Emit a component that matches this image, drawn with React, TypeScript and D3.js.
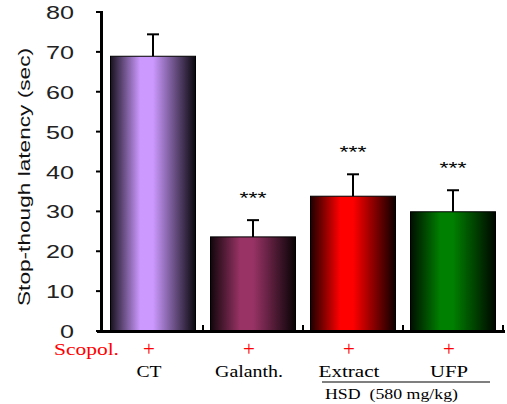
import React, { useEffect, useRef } from "react";
import * as d3 from "d3";

const groups = ["CT", "Galanth.", "Extract", "UFP"];
const means = [68.9, 23.6, 33.8, 29.9];
const errors = [5.5, 4.2, 5.5, 5.4];
const stars = ["", "***", "***", "***"];
const colors = ["#cc99ff", "#993366", "#ff0000", "#008000"];
const yTicks = [0, 10, 20, 30, 40, 50, 60, 70, 80];
const labelWidths = [25, 68, 61, 38];

export default function App() {
  const svgRef = useRef<SVGSVGElement>(null);

  useEffect(() => {
    const svg = d3.select(svgRef.current);
    svg.selectAll("*").remove();

    const width = 507;
    const height = 404;
    svg.attr("width", width).attr("height", height);

    const x = d3
      .scaleBand()
      .domain(groups)
      .range([103, 503])
      .paddingInner(0.15)
      .paddingOuter(0.075);

    const y = d3.scaleLinear().domain([0, 80]).range([331, 12]);

    // gradients: dark edges, bright towards the centre
    const defs = svg.append("defs");
    colors.forEach((c, i) => {
      const g = defs
        .append("linearGradient")
        .attr("id", "grad" + i)
        .attr("x1", "0%")
        .attr("x2", "100%")
        .attr("y1", "0%")
        .attr("y2", "0%");
      const base = d3.color(c)!;
      g.append("stop").attr("offset", "0%").attr("stop-color", d3.interpolateRgb("#000", c)(0.12));
      g.append("stop").attr("offset", "35%").attr("stop-color", base.formatHex());
      g.append("stop").attr("offset", "50%").attr("stop-color", base.formatHex());
      g.append("stop").attr("offset", "100%").attr("stop-color", d3.interpolateRgb("#000", c)(0.05));
    });

    // bars
    svg
      .append("g")
      .selectAll("rect")
      .data(groups)
      .join("rect")
      .attr("x", (d) => x(d)!)
      .attr("y", (d, i) => y(means[i]))
      .attr("width", x.bandwidth())
      .attr("height", (d, i) => y(0) - y(means[i]))
      .attr("fill", (d, i) => `url(#grad${i})`)
      .attr("stroke", "#000")
      .attr("stroke-width", 1);

    // error bars
    const eb = svg.append("g").attr("stroke", "#000").attr("stroke-width", 2);
    groups.forEach((d, i) => {
      const cx = x(d)! + x.bandwidth() / 2;
      eb.append("line")
        .attr("x1", cx)
        .attr("x2", cx)
        .attr("y1", y(means[i]))
        .attr("y2", y(means[i] + errors[i]));
      eb.append("line")
        .attr("x1", cx - 6)
        .attr("x2", cx + 6)
        .attr("y1", y(means[i] + errors[i]))
        .attr("y2", y(means[i] + errors[i]));
    });

    // significance stars
    svg
      .append("g")
      .selectAll("text")
      .data(groups)
      .join("text")
      .filter((d, i) => stars[i] !== "")
      .attr("x", (d) => x(d)! + x.bandwidth() / 2)
      .attr("y", (d) => y(means[groups.indexOf(d)] + errors[groups.indexOf(d)]) - 16)
      .attr("text-anchor", "middle")
      .attr("font-family", "Liberation Sans, Arial, sans-serif")
      .attr("font-size", 17)
      .attr("textLength", 27)
      .attr("lengthAdjust", "spacingAndGlyphs")
      .text((d) => stars[groups.indexOf(d)]);

    // y axis
    const yAxis = svg.append("g");
    yAxis
      .append("line")
      .attr("x1", 101.5)
      .attr("x2", 101.5)
      .attr("y1", y(80) - 1)
      .attr("y2", y(0) + 1)
      .attr("stroke", "#000")
      .attr("stroke-width", 3);
    yAxis
      .selectAll("line.tick")
      .data(yTicks)
      .join("line")
      .attr("class", "tick")
      .attr("x1", 96)
      .attr("x2", 101)
      .attr("y1", (d) => y(d))
      .attr("y2", (d) => y(d))
      .attr("stroke", "#000")
      .attr("stroke-width", 2);
    yAxis
      .selectAll("text")
      .data(yTicks)
      .join("text")
      .attr("x", 74)
      .attr("y", (d) => y(d) + 7)
      .attr("text-anchor", "end")
      .attr("font-family", "Liberation Sans, Arial, sans-serif")
      .attr("font-size", 19)
      .attr("fill", "#222")
      .attr("textLength", (d) => String(d).length * 14)
      .attr("lengthAdjust", "spacingAndGlyphs")
      .text((d) => d);

    // x axis
    const xAxis = svg.append("g");
    xAxis
      .append("line")
      .attr("x1", 97)
      .attr("x2", 505)
      .attr("y1", y(0) + 0.5)
      .attr("y2", y(0) + 0.5)
      .attr("stroke", "#000")
      .attr("stroke-width", 3);
    xAxis
      .selectAll("line.tick")
      .data(groups)
      .join("line")
      .attr("class", "tick")
      .attr("x1", (d) => x(d)! + x.bandwidth() + x.step() * 0.075)
      .attr("x2", (d) => x(d)! + x.bandwidth() + x.step() * 0.075)
      .attr("y1", y(0))
      .attr("y2", y(0) - 6)
      .attr("stroke", "#000")
      .attr("stroke-width", 2);

    // y title
    svg
      .append("text")
      .attr("transform", "translate(30,177) rotate(-90)")
      .attr("text-anchor", "middle")
      .attr("font-family", "Liberation Sans, Arial, sans-serif")
      .attr("font-size", 17)
      .attr("fill", "#111")
      .attr("textLength", 258)
      .attr("lengthAdjust", "spacingAndGlyphs")
      .text("Stop-though latency (sec)");

    const serif = "'Liberation Serif', 'DejaVu Serif', 'Times New Roman', serif";

    // treatment row
    svg
      .append("text")
      .attr("x", 54)
      .attr("y", 355)
      .attr("font-family", serif)
      .attr("font-size", 16)
      .attr("fill", "#ff0000")
      .attr("textLength", 65)
      .attr("lengthAdjust", "spacingAndGlyphs")
      .text("Scopol.");
    svg
      .append("g")
      .selectAll("text")
      .data(groups)
      .join("text")
      .attr("x", (d) => x(d)! + x.bandwidth() / 2 - 4)
      .attr("y", 356)
      .attr("text-anchor", "middle")
      .attr("font-family", serif)
      .attr("font-size", 21)
      .attr("fill", "#ff0000")
      .text("+");

    // group labels
    svg
      .append("g")
      .selectAll("text")
      .data(groups)
      .join("text")
      .attr("x", (d) => x(d)! + x.bandwidth() / 2 - 4)
      .attr("y", 377)
      .attr("text-anchor", "middle")
      .attr("font-family", serif)
      .attr("font-size", 16)
      .attr("fill", "#000")
      .attr("textLength", (d, i) => labelWidths[i])
      .attr("lengthAdjust", "spacingAndGlyphs")
      .text((d) => d);

    svg
      .append("line")
      .attr("x1", 322)
      .attr("x2", 490)
      .attr("y1", 382)
      .attr("y2", 382)
      .attr("stroke", "#000")
      .attr("stroke-width", 1.2);
    svg
      .append("text")
      .attr("x", 325)
      .attr("y", 399)
      .attr("font-family", serif)
      .attr("font-size", 15)
      .attr("fill", "#000")
      .attr("textLength", 133)
      .attr("lengthAdjust", "spacingAndGlyphs")
      .style("white-space", "pre")
      .text("HSD  (580 mg/kg)");
  }, []);

  return <svg ref={svgRef} style={{ position: "absolute", left: 0, top: 0 }}></svg>;
}
